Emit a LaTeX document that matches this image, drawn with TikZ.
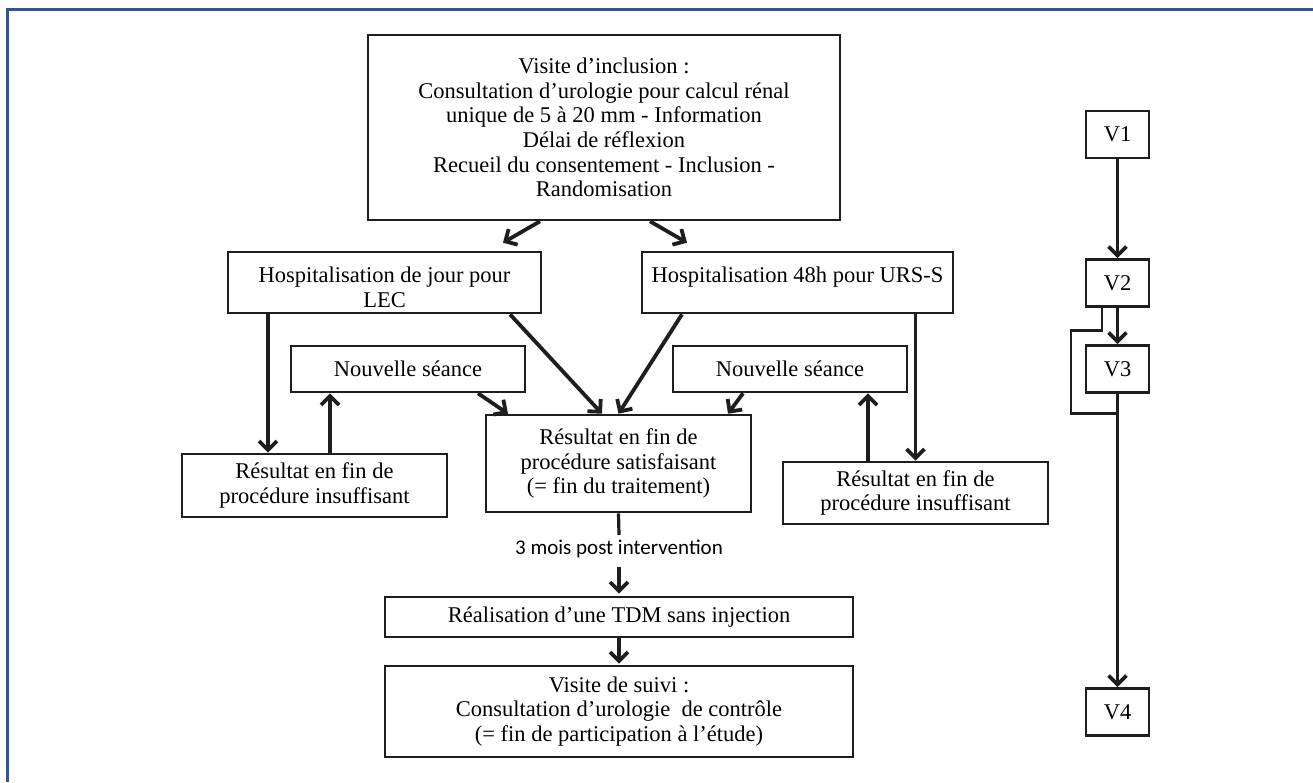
\documentclass[tikz,border=0pt]{standalone}
\usepackage{fontspec}
\setmainfont{Liberation Serif}
\newfontfamily\calib{Carlito}
\usetikzlibrary{arrows.meta}
\definecolor{frameblue}{RGB}{47,85,151}
\definecolor{ink}{RGB}{30,30,30}
\tikzset{
  box/.style={draw=ink, line width=2.6pt, inner sep=0pt, align=center, font=\fontsize{22.5}{24.6}\selectfont},
  vbox/.style={box, minimum width=63pt, minimum height=47pt},
  arr/.style={draw=ink, line width=3.8pt, -{Straight Barb[length=9pt,width=18pt]}},
  plainline/.style={draw=ink, line width=3.2pt},
  loopline/.style={draw=ink, line width=2.6pt},
}
\begin{document}
\begin{tikzpicture}[x=1pt, y=-1pt]
\useasboundingbox (0,0) rectangle (1313,782);
\fill[white] (0,0) rectangle (1313,782);
\draw[frameblue, line width=3pt] (7,782) -- (7,9) -- (1313,9);

% main flow boxes
\node[box, minimum width=472pt, minimum height=185pt] (top) at (604,127.5)
  {Visite d’inclusion :\\Consultation d’urologie pour calcul rénal\\unique de 5 à 20 mm - Information\\Délai de réflexion\\Recueil du consentement - Inclusion -\\Randomisation};
\node[box, minimum width=313pt, minimum height=61pt] (hj) at (384.5,282.5)
  {\rule{0pt}{25pt}Hospitalisation de jour pour\\LEC};
\node[box, minimum width=311pt, minimum height=61pt] (h48) at (797.5,282.5)
  {\rule{0pt}{25pt}Hospitalisation 48h pour URS-S\\~};
\node[box, minimum width=234pt, minimum height=46pt] (nsL) at (408,369) {Nouvelle séance};
\node[box, minimum width=234pt, minimum height=46pt] (nsR) at (790,369) {Nouvelle séance};
\node[box, minimum width=265pt, minimum height=63pt] (insL) at (314.5,485.5)
  {Résultat en fin de\\procédure insuffisant};
\node[box, minimum width=265pt, minimum height=97pt] (sat) at (618.5,463.5)
  {Résultat en fin de\\procédure satisfaisant\\(= fin du traitement)};
\node[box, minimum width=265pt, minimum height=62pt] (insR) at (915.5,493)
  {Résultat en fin de\\procédure insuffisant};
\node[inner sep=0pt, font=\calib\fontsize{21}{25}\selectfont] (lbl) at (619,549) {3 mois post intervention};
\node[box, minimum width=468pt, minimum height=40pt] (tdm) at (619,617)
  {Réalisation d’une TDM sans injection};
\node[box, minimum width=468pt, minimum height=91pt] (suivi) at (619,711.5)
  {Visite de suivi :\\Consultation d’urologie~ de contrôle\\(= fin de participation à l’étude)};

% visit timeline
\node[vbox] (V1) at (1117.5,134.5) {V1};
\node[vbox] (V2) at (1117.5,283) {V2};
\node[vbox] (V3) at (1117.5,369) {V3};
\node[vbox] (V4) at (1117.5,712) {V4};

% connectors
\draw[arr] ([xshift=-64pt]top.south) -- ([xshift=118.5pt,yshift=8pt]hj.north);
\draw[arr] ([xshift=46pt]top.south) -- ([xshift=-110.5pt,yshift=8pt]h48.north);
\draw[arr] ([xshift=-116.5pt]hj.south) -- ([xshift=-46.5pt]insL.north);
\draw[arr] ([xshift=15.5pt]insL.north) -- ([xshift=-78pt]nsL.south);
\draw[arr] ([xshift=125.5pt]hj.south) -- ([xshift=-16.5pt]sat.north);
\draw[arr] ([xshift=70pt]nsL.south) -- ([xshift=-110.5pt]sat.north);
\draw[arr] ([xshift=-115.5pt]h48.south) -- (sat.north);
\draw[arr] ([xshift=-47pt]nsR.south) -- ([xshift=109.5pt]sat.north);
\draw[arr] (insR.north |- h48.south) -- (insR.north);
\draw[arr] ([xshift=-47.5pt]insR.north) -- ([xshift=78pt]nsR.south);
\draw[plainline] (sat.south) -- ([yshift=14pt]lbl.center);
\draw[arr] ([yshift=-18pt]lbl.center) -- ([yshift=2pt]tdm.north);
\draw[arr] (tdm.south) -- ([yshift=1pt]suivi.north);

\draw[arr] (V1.south) -- (V2.north);
\draw[arr] (V2.south) -- (V3.north);
\draw[arr] (V3.south) -- (V4.north);
\coordinate (j) at ([yshift=-19.5pt]V3.south);
\draw[loopline] ([xshift=-15.5pt]V2.south) -- ++(0,22.5) -- ++(-31,0) |- (j);
\end{tikzpicture}
\end{document}
